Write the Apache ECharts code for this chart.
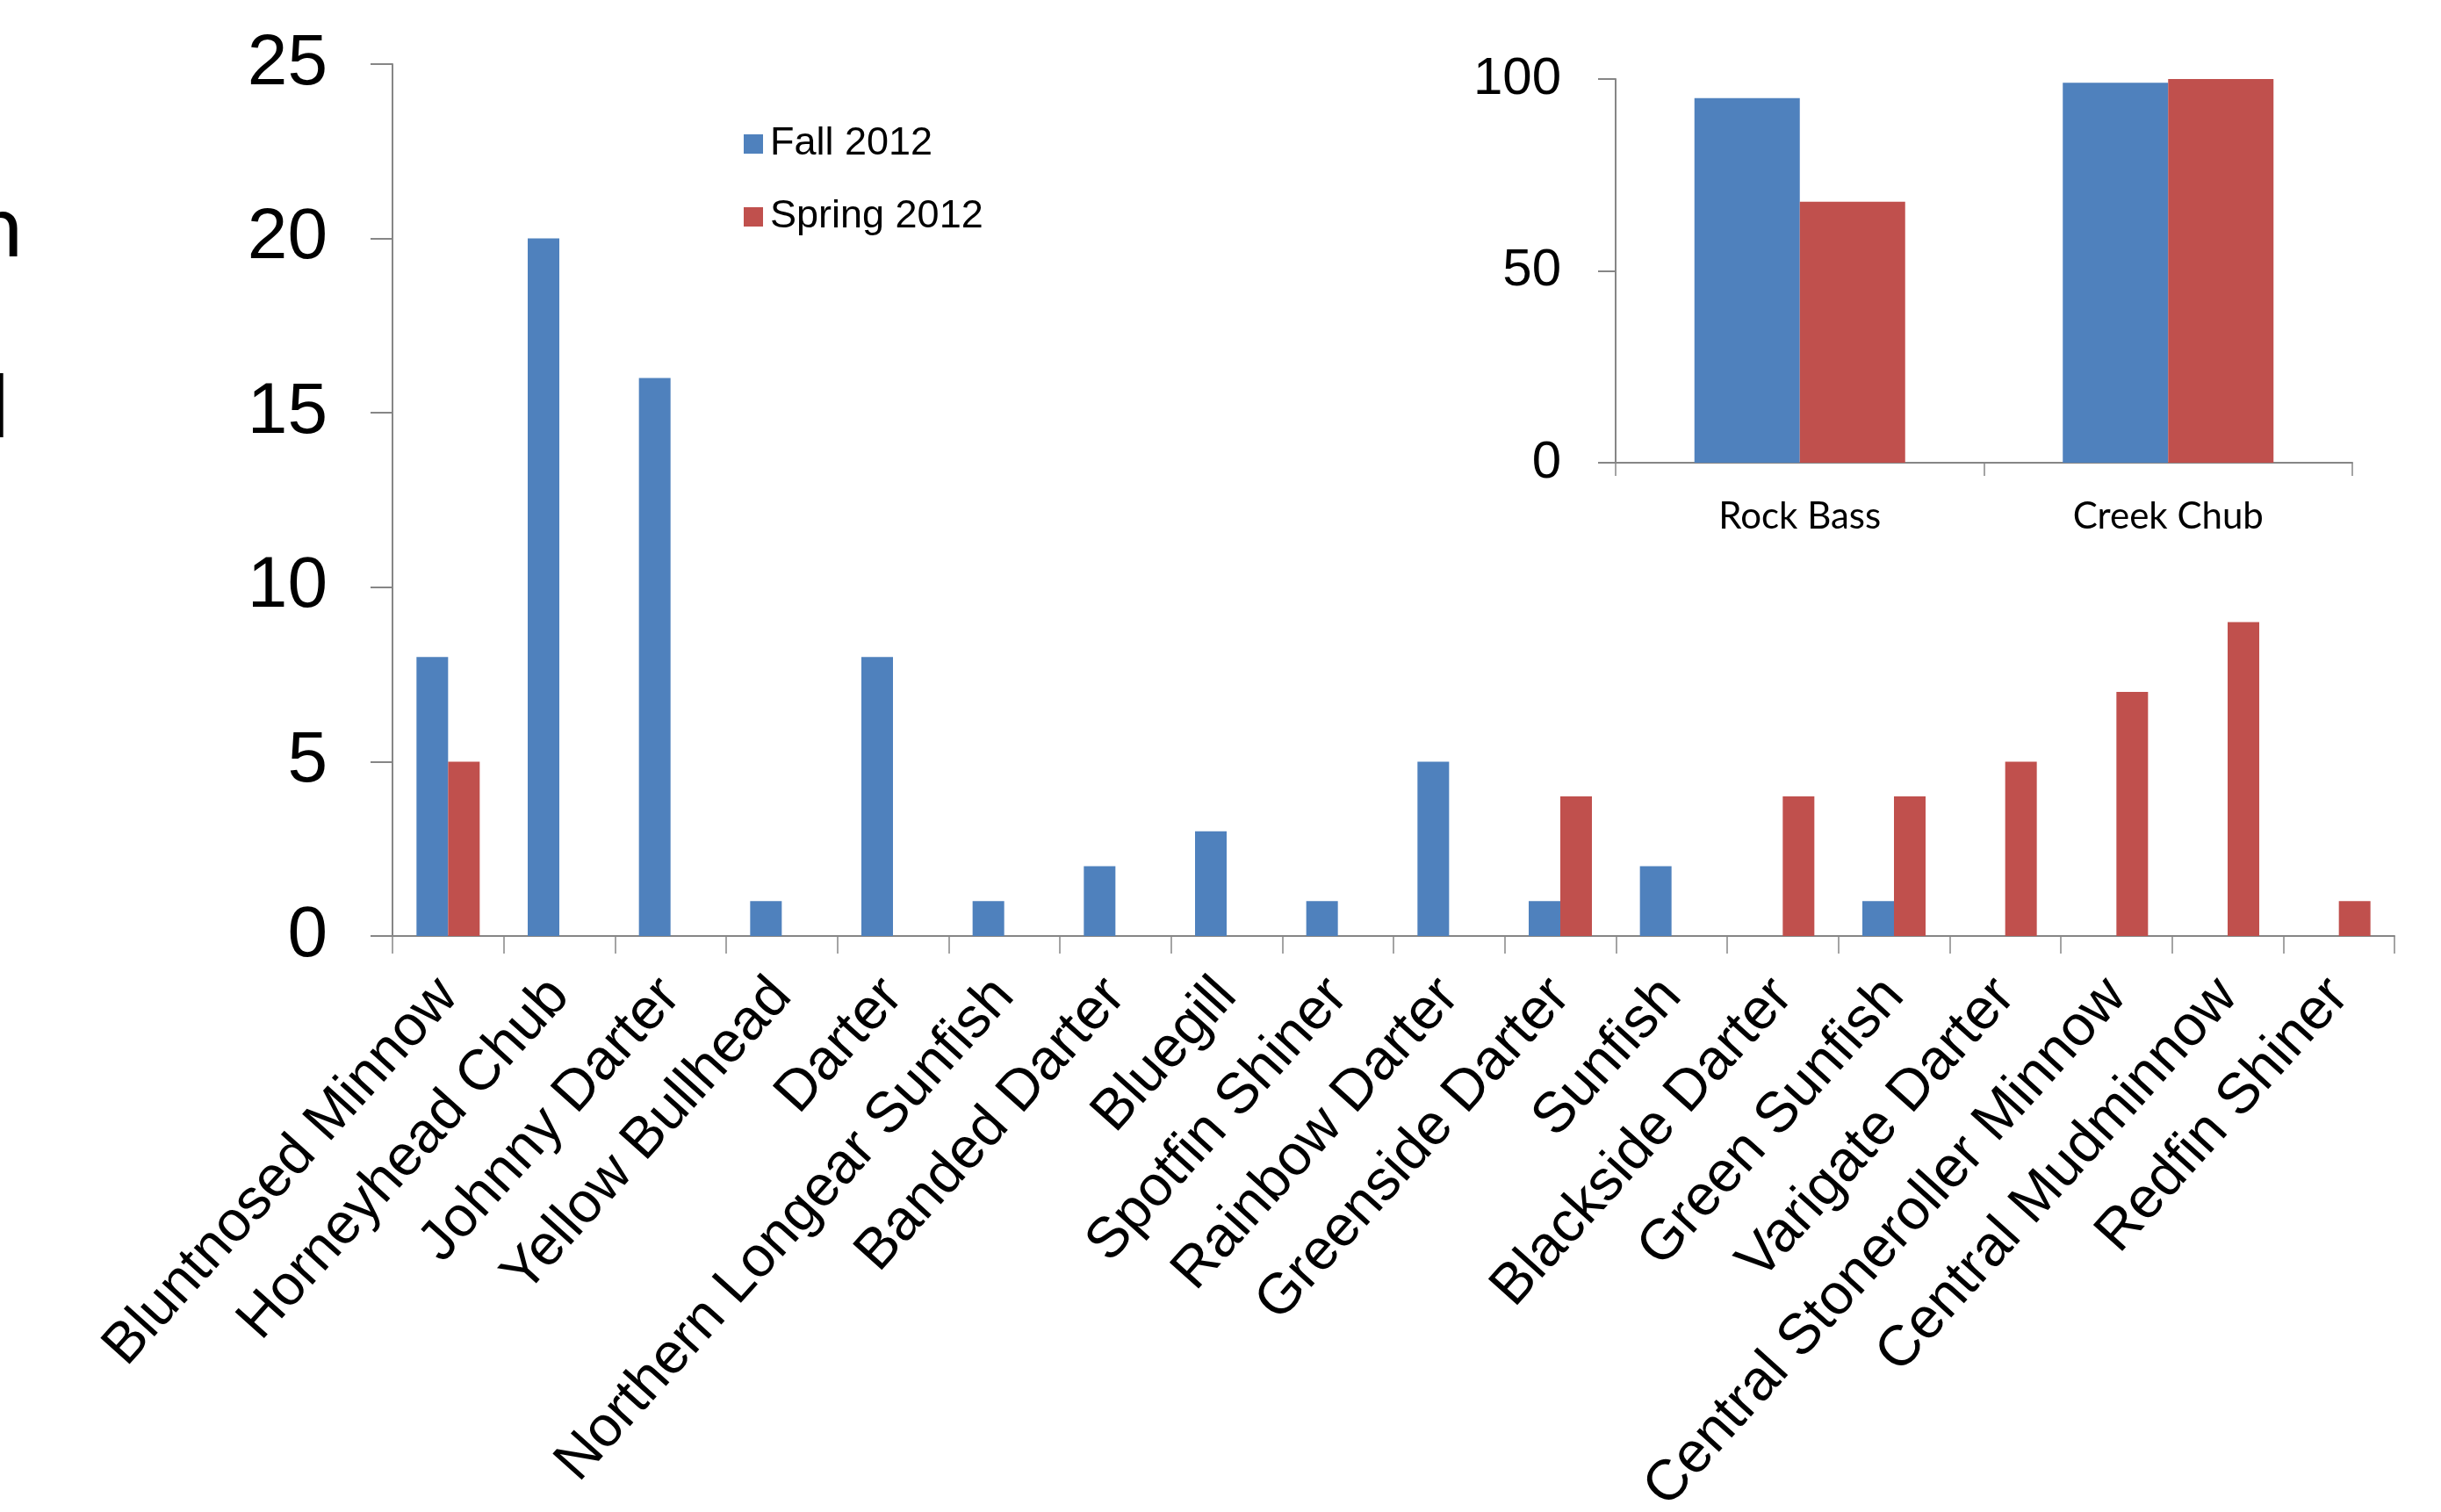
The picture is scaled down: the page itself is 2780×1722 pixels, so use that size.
<!DOCTYPE html>
<html>
<head>
<meta charset="utf-8">
<title>Fish counts</title>
<script src="https://cdn.jsdelivr.net/npm/echarts@6/dist/echarts.min.js"></script>
<style>
    html, body { margin: 0; padding: 0; background: #fff; }
    #chart { width: 2780px; height: 1722px; }
</style>
</head>
<body>
<div id="chart"></div>
<script>
// species on the main chart
var species = [
    'Bluntnosed Minnow', 'Horneyhead Chub', 'Johnny Darter', 'Yellow Bullhead',
    'Darter', 'Northern Longear Sunfish', 'Banded Darter', 'Bluegill',
    'Spotfin Shiner', 'Rainbow Darter', 'Greenside Darter', 'Sunfish',
    'Blackside Darter', 'Green Sunfish', 'Varigate Darter',
    'Central Stoneroller Minnow', 'Central Mudminnow', 'Redfin Shiner'
];
var fall2012 = [8, 20, 16, 1, 8, 1, 2, 3, 1, 5, 1, 2, 0, 1, 0, 0, 0, 0];
var spring2012 = [5, 0, 0, 0, 0, 0, 0, 0, 0, 0, 4, 0, 4, 4, 5, 7, 9, 1];
var mainTicks = [0, 5, 10, 15, 20, 25];

// inset chart (the two abundant species)
var insetSpecies = ['Rock Bass', 'Creek Chub'];
var insetFall = [95, 99];
var insetSpring = [68, 100];
var insetTicks = [0, 50, 100];

var BLUE = '#4F81BD';
var RED = '#C0504D';
var AXIS = '#868686';
var ARIAL = "'Liberation Sans', Arial, sans-serif";

var myChart = echarts.init(document.getElementById('chart'));

var option = {
    backgroundColor: '#fff',
    animation: false,
    legend: {
        orient: 'vertical',
        left: 842,
        top: 136,
        itemWidth: 22,
        itemHeight: 22,
        itemGap: 37,
        icon: 'rect',
        data: ['Fall 2012', 'Spring 2012'],
        textStyle: {
            fontFamily: ARIAL,
            fontSize: 45,
            lineHeight: 46,
            color: '#000',
            padding: [0, 0, 0, 3]
        }
    },
    graphic: [
        // fragments of slide text cut off at the left edge
        { type: 'text', style: { x: 26, y: 260, text: 'n', font: '98px Lato', fill: '#000', align: 'right', verticalAlign: 'middle' } },
        { type: 'text', style: { x: 11, y: 466, text: 'l', font: '98px Lato', fill: '#000', align: 'right', verticalAlign: 'middle' } }
    ],
    grid: [
        { left: 447, right: 53, top: 73, bottom: 656, outerBoundsMode: 'none' },
        { left: 1840, right: 101, top: 90, bottom: 1195, outerBoundsMode: 'none' }
    ],
    xAxis: [{
        type: 'category',
        gridIndex: 0,
        data: species,
        axisLine: { lineStyle: { color: AXIS, width: 2 } },
        axisTick: { show: true, interval: 0, length: 20, lineStyle: { color: AXIS, width: 1.5 } },
        axisLabel: {
            interval: 0,
            rotate: 48,
            margin: 58,
            fontFamily: ARIAL,
            fontSize: 65,
            color: '#000'
        },
        splitLine: { show: false }
    }, {
        type: 'category',
        gridIndex: 1,
        data: insetSpecies,
        axisLine: { lineStyle: { color: AXIS, width: 2 } },
        axisTick: { show: true, interval: 0, length: 15, lineStyle: { color: AXIS, width: 1.5 } },
        axisLabel: {
            interval: 0,
            margin: 40,
            fontFamily: 'Lato, sans-serif',
            fontSize: 42,
            color: '#000'
        },
        splitLine: { show: false }
    }],
    yAxis: [{
        type: 'value',
        gridIndex: 0,
        min: mainTicks[0],
        max: mainTicks[mainTicks.length - 1],
        interval: 5,
        axisLine: { show: true, lineStyle: { color: AXIS, width: 2 } },
        axisTick: { show: true, length: 25, lineStyle: { color: AXIS, width: 2 } },
        axisLabel: { margin: 74, fontFamily: ARIAL, fontSize: 82, color: '#000' },
        splitLine: { show: false }
    }, {
        type: 'value',
        gridIndex: 1,
        min: insetTicks[0],
        max: insetTicks[insetTicks.length - 1],
        interval: 50,
        axisLine: { show: true, lineStyle: { color: AXIS, width: 2 } },
        axisTick: { show: true, length: 20, lineStyle: { color: AXIS, width: 2 } },
        axisLabel: { margin: 62, fontFamily: ARIAL, fontSize: 60, color: '#000' },
        splitLine: { show: false }
    }],
    series: [{
        name: 'Fall 2012',
        type: 'bar',
        xAxisIndex: 0,
        yAxisIndex: 0,
        barWidth: 36,
        barGap: '0%',
        itemStyle: { color: BLUE },
        data: fall2012
    }, {
        name: 'Spring 2012',
        type: 'bar',
        xAxisIndex: 0,
        yAxisIndex: 0,
        barWidth: 36,
        barGap: '0%',
        itemStyle: { color: RED },
        data: spring2012
    }, {
        name: 'Fall 2012',
        type: 'bar',
        xAxisIndex: 1,
        yAxisIndex: 1,
        barWidth: 120,
        barGap: '0%',
        itemStyle: { color: BLUE },
        data: insetFall
    }, {
        name: 'Spring 2012',
        type: 'bar',
        xAxisIndex: 1,
        yAxisIndex: 1,
        barWidth: 120,
        barGap: '0%',
        itemStyle: { color: RED },
        data: insetSpring
    }]
};

myChart.setOption(option);
</script>
</body>
</html>
